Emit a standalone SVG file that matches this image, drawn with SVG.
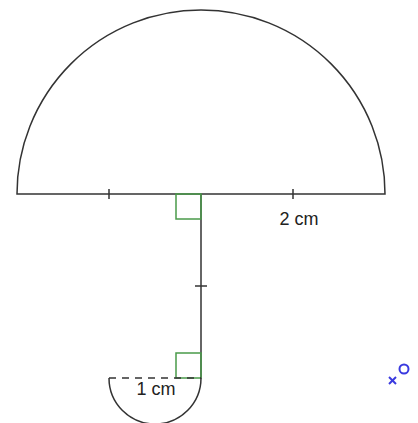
<svg xmlns="http://www.w3.org/2000/svg" width="418" height="423" viewBox="0 0 418 423">
<style>
.ln{fill:none;stroke:#333;stroke-width:1.5}
.rt{fill:none;stroke:#4a9a4a;stroke-width:1.5}
.lbl{font-family:"Liberation Sans",Arial,sans-serif;font-size:18px;fill:#222}
.blue{fill:none;stroke:#3a3adf;stroke-width:2}
</style>
<rect width="418" height="423" fill="#fff"/>
<g id="big-semicircle">
<path class="ln" d="M17,194 A184,184 0 0 1 385,194 Z"/>
<line class="ln" x1="109" y1="189" x2="109" y2="199"/>
<line class="ln" x1="293" y1="189" x2="293" y2="199"/>
</g>
<g id="handle">
<line class="ln" x1="201" y1="194" x2="201" y2="378"/>
<line class="ln" x1="195" y1="286" x2="207" y2="286"/>
<rect class="rt" x="176" y="194" width="25" height="25"/>
<rect class="rt" x="176" y="353" width="25" height="25"/>
</g>
<g id="small-semicircle">
<path class="ln" d="M109,378 A46,46 0 0 0 201,378"/>
<line class="ln" x1="109" y1="378" x2="201" y2="378" stroke-dasharray="7,6"/>
</g>
<text class="lbl" x="299" y="225" text-anchor="middle">2 cm</text>
<text class="lbl" x="156" y="395" text-anchor="middle">1 cm</text>
<g id="marker">
<line class="blue" x1="389" y1="377" x2="396" y2="384"/>
<line class="blue" x1="396" y1="377" x2="389" y2="384"/>
<circle class="blue" cx="404" cy="369" r="4.5" stroke-width="1.3"/>
</g>
</svg>
